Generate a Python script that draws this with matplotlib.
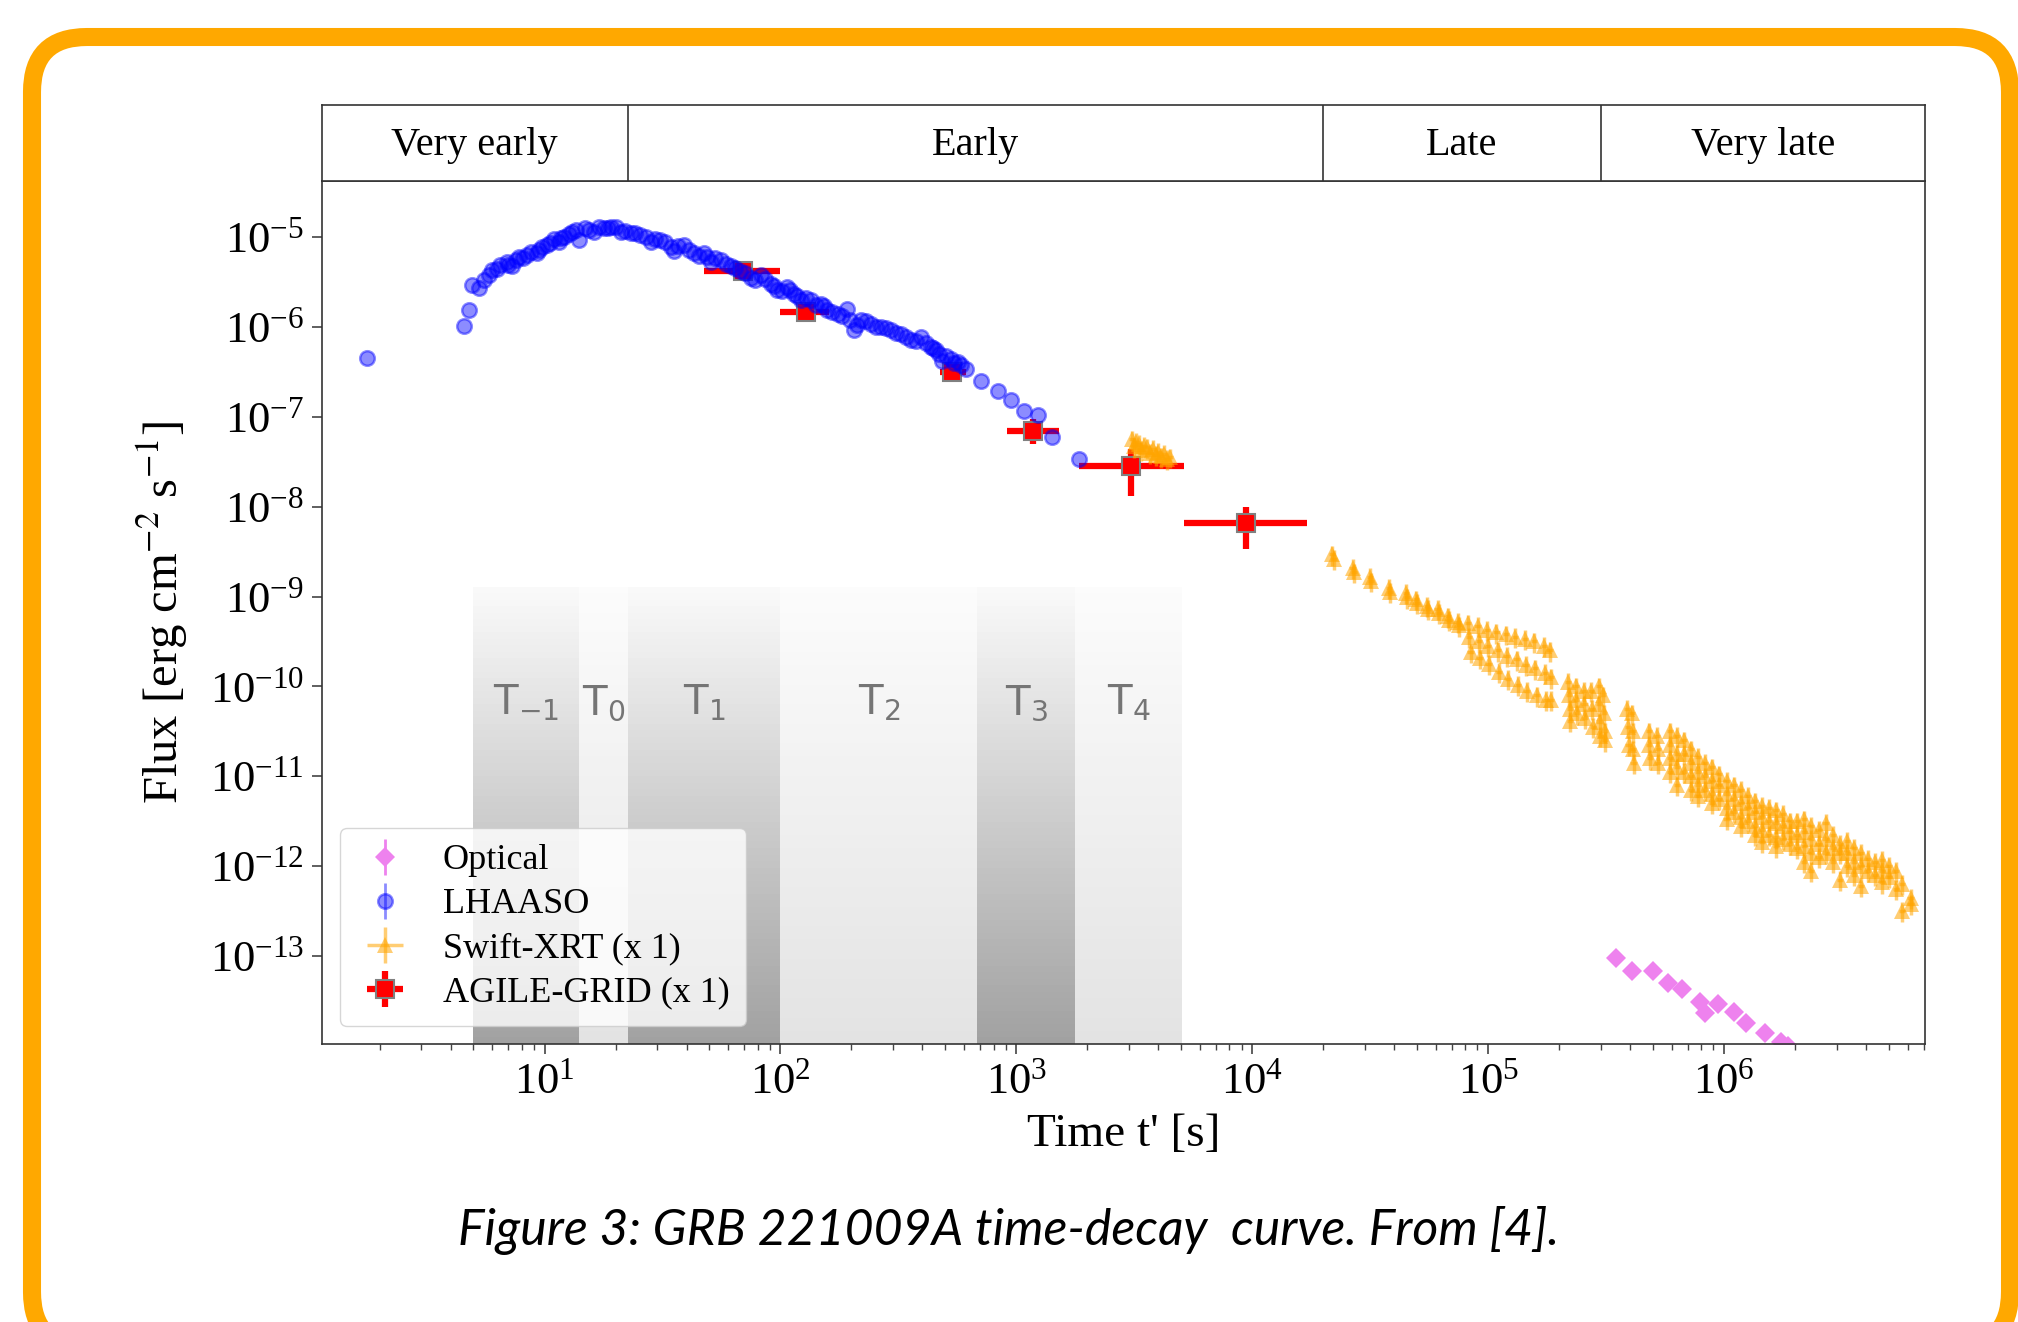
import numpy as np
import matplotlib
matplotlib.use('Agg')
import matplotlib.pyplot as plt
from matplotlib.patches import FancyBboxPatch
from matplotlib.ticker import LogLocator, NullLocator, LogFormatterMathtext

plt.rcParams['font.family'] = ['Liberation Serif', 'DejaVu Serif']
plt.rcParams['mathtext.fontset'] = 'stix'

# ---- data ----
phase_names = ['Very early', 'Early', 'Late', 'Very late']
phase_edges = [22.5, 2.0e4, 3.0e5]

interval_names = [r'T$_{-1}$', r'T$_{0}$', r'T$_{1}$', r'T$_{2}$', r'T$_{3}$', r'T$_{4}$']
interval_edges = [5.0, 14.0, 22.5, 100.0, 682.0, 1770.0, 5050.0]

opt_t = [3.49e5, 4.07e5, 4.98e5, 5.8e5, 6.6e5, 7.9e5, 8.3e5, 9.4e5, 1.1e6, 1.24e6, 1.49e6, 1.74e6, 1.87e6]
opt_f = [9.6e-14, 6.8e-14, 6.8e-14, 5.0e-14, 4.35e-14, 3.1e-14, 2.3e-14, 2.95e-14, 2.4e-14,
         1.8e-14, 1.4e-14, 1.1e-14, 1.0e-14]

lhaaso_t = [1.77, 4.55, 4.78, 4.93, 5.26, 5.53, 6.0, 6.5, 6.95, 7.3, 7.8, 8.4, 9.3, 9.8, 10.6, 11.5,
            12.1, 13.1, 14.0, 14.9, 16.2, 17.9, 19.1, 21.0, 23.2, 25.5, 28.2, 31.0, 34.3, 35.4, 39.0,
            43.0, 47.4, 50.6, 55.8, 61.5, 67.6, 74.8, 82.6, 91.0, 97.1, 107, 114, 122, 135, 148, 158,
            175, 192, 205, 219, 242, 266, 294, 324, 357, 394, 434, 456, 486, 527, 563, 611, 708, 832,
            948, 1081, 1240, 1413, 1837,
            5.8, 6.3, 7.0, 7.6, 8.1, 8.8, 9.5, 10.2, 11.0, 11.8, 12.7, 13.6, 15.5, 17.0, 18.5, 20.0,
            22.0, 24.3, 26.8, 29.5, 32.5, 36.8, 41.0, 45.0, 49.0, 53.0, 58.5, 64.0, 71.0, 78.0, 86.0,
            94.0, 102, 110, 118, 128, 141, 153, 166, 183, 198, 212, 230, 254, 280, 309, 340, 375, 414,
            445, 470, 505, 545, 585]
lhaaso_f = [4.5e-7, 1.02e-6, 1.53e-6, 2.9e-6, 2.7e-6, 3.3e-6, 4.3e-6, 4.9e-6, 5.3e-6, 4.7e-6, 6.0e-6,
            6.3e-6, 6.6e-6, 7.8e-6, 8.5e-6, 8.9e-6, 1.01e-5, 1.15e-5, 9.3e-6, 1.25e-5, 1.15e-5, 1.25e-5,
            1.3e-5, 1.15e-5, 1.1e-5, 1.05e-5, 8.9e-6, 9.3e-6, 7.8e-6, 6.9e-6, 8.1e-6, 6.6e-6, 6.6e-6,
            5.3e-6, 5.5e-6, 4.7e-6, 4.2e-6, 3.5e-6, 3.8e-6, 3.0e-6, 2.6e-6, 2.8e-6, 2.35e-6, 2.0e-6,
            2.0e-6, 1.82e-6, 1.53e-6, 1.4e-6, 1.6e-6, 9.2e-7, 1.19e-6, 1.09e-6, 1.0e-6, 9.2e-7, 8.4e-7,
            7.1e-7, 7.7e-7, 6.0e-7, 5.5e-7, 4.2e-7, 4.4e-7, 4.1e-7, 3.4e-7, 2.5e-7, 1.96e-7, 1.54e-7,
            1.15e-7, 1.05e-7, 6.0e-8, 3.4e-8,
            3.8e-6, 4.4e-6, 4.9e-6, 5.5e-6, 5.8e-6, 6.8e-6, 7.2e-6, 8.2e-6, 9.6e-6, 9.8e-6, 1.08e-5,
            1.2e-5, 1.2e-5, 1.3e-5, 1.27e-5, 1.28e-5, 1.18e-5, 1.12e-5, 1.0e-5, 9.6e-6, 8.7e-6, 8.0e-6,
            7.2e-6, 6.2e-6, 6.0e-6, 5.8e-6, 5.0e-6, 4.5e-6, 4.0e-6, 3.3e-6, 3.4e-6, 2.85e-6, 2.5e-6,
            2.6e-6, 2.2e-6, 2.1e-6, 1.75e-6, 1.7e-6, 1.45e-6, 1.32e-6, 1.2e-6, 1.05e-6, 1.15e-6, 1.0e-6,
            9.7e-7, 8.5e-7, 7.7e-7, 7.0e-7, 6.6e-7, 5.8e-7, 5.0e-7, 4.7e-7, 4.0e-7, 3.8e-7]

# Swift-XRT, read as log10(t) and log10(flux) off the log axes
swift_log_t = [3.49, 3.50, 3.505, 3.52, 3.53, 3.54, 3.555, 3.565, 3.58, 3.59, 3.60, 3.615, 3.625, 3.64, 3.65,
               4.337, 4.345, 4.425, 4.43, 4.50, 4.505, 4.58, 4.585, 4.65, 4.655, 4.695, 4.70, 4.74, 4.745,
               4.785, 4.79, 4.83, 4.835, 4.87, 4.875,
               4.915, 4.92, 4.925, 4.955, 4.96, 4.965, 4.995, 5.0, 5.005, 5.035, 5.04, 5.045,
               5.075, 5.08, 5.085, 5.115, 5.12, 5.125, 5.155, 5.16, 5.165, 5.195, 5.2, 5.205,
               5.235, 5.24, 5.245, 5.26, 5.265, 5.268,
               5.34, 5.342, 5.345, 5.348, 5.37, 5.372, 5.375, 5.405, 5.408, 5.41, 5.437, 5.44, 5.443,
               5.468, 5.47, 5.472, 5.475, 5.488, 5.49, 5.493, 5.495,
               5.59, 5.592, 5.595, 5.61, 5.612, 5.614, 5.616,
               5.68, 5.683, 5.686, 5.715, 5.718, 5.72,
               5.77, 5.77, 5.77, 5.77, 5.80, 5.80, 5.80, 5.80, 5.83, 5.83, 5.83,
               5.86, 5.86, 5.86, 5.86, 5.89, 5.89, 5.89, 5.89, 5.92, 5.92, 5.92,
               5.95, 5.95, 5.95, 5.95, 5.98, 5.98, 5.98, 6.01, 6.01, 6.01, 6.01,
               6.04, 6.04, 6.04, 6.07, 6.07, 6.07, 6.07, 6.10, 6.10, 6.10,
               6.13, 6.13, 6.13, 6.13, 6.16, 6.16, 6.16, 6.16, 6.19, 6.19, 6.19,
               6.22, 6.22, 6.22, 6.22, 6.25, 6.25, 6.25, 6.28, 6.28, 6.28, 6.31, 6.31, 6.31,
               6.34, 6.34, 6.34, 6.34, 6.37, 6.37, 6.37, 6.37, 6.40, 6.40, 6.40,
               6.43, 6.43, 6.43, 6.46, 6.46, 6.46, 6.49, 6.49, 6.49, 6.52, 6.52, 6.52,
               6.55, 6.55, 6.55, 6.58, 6.58, 6.58, 6.61, 6.61, 6.64, 6.64, 6.67, 6.67, 6.67,
               6.70, 6.70, 6.73, 6.73, 6.755, 6.755, 6.79, 6.79]
swift_log_f = [-7.25, -7.33, -7.28, -7.30, -7.37, -7.32, -7.34, -7.40, -7.36, -7.42, -7.39, -7.44, -7.41, -7.47, -7.45,
               -8.53, -8.58, -8.68, -8.73, -8.78, -8.83, -8.90, -8.95, -8.96, -9.01, -9.03, -9.07, -9.10, -9.14,
               -9.14, -9.18, -9.22, -9.26, -9.28, -9.32,
               -9.30, -9.45, -9.62, -9.33, -9.50, -9.68, -9.37, -9.55, -9.75, -9.40, -9.60, -9.84,
               -9.42, -9.66, -9.92, -9.45, -9.70, -9.98, -9.47, -9.76, -10.05, -9.50, -9.80, -10.10,
               -9.55, -9.85, -10.15, -9.60, -9.90, -10.15,
               -9.95, -10.10, -10.25, -10.38, -10.00, -10.15, -10.30, -10.05, -10.20, -10.35, -10.05, -10.25, -10.45,
               -10.00, -10.20, -10.40, -10.55, -10.10, -10.30, -10.50, -10.60,
               -10.25, -10.45, -10.65, -10.30, -10.50, -10.70, -10.85,
               -10.50, -10.65, -10.80, -10.55, -10.70, -10.85,
               -10.50, -10.65, -10.80, -10.95, -10.55, -10.75, -10.90, -11.10, -10.60, -10.75, -10.95,
               -10.70, -10.85, -11.00, -11.15, -10.78, -10.95, -11.10, -11.22, -10.85, -11.00, -11.15,
               -10.90, -11.05, -11.20, -11.30, -10.98, -11.10, -11.25, -11.05, -11.20, -11.35, -11.47,
               -11.10, -11.25, -11.40, -11.15, -11.30, -11.45, -11.55, -11.22, -11.35, -11.50,
               -11.28, -11.40, -11.55, -11.65, -11.33, -11.45, -11.60, -11.73, -11.35, -11.50, -11.65,
               -11.38, -11.52, -11.68, -11.78, -11.42, -11.55, -11.70, -11.50, -11.62, -11.75, -11.50, -11.65, -11.80,
               -11.48, -11.62, -11.78, -11.95, -11.55, -11.70, -11.85, -12.05, -11.60, -11.75, -11.90,
               -11.52, -11.70, -11.85, -11.65, -11.80, -11.95, -11.75, -11.85, -12.15, -11.72, -11.85, -12.00,
               -11.80, -11.95, -12.10, -11.85, -12.00, -12.22, -11.92, -12.05, -11.95, -12.10, -11.93, -12.05, -12.18,
               -12.00, -12.12, -12.05, -12.25, -12.20, -12.50, -12.35, -12.42]

agile_t = [69.2, 128, 535, 1172, 3060, 9420]
agile_f = [4.2e-6, 1.47e-6, 3.14e-7, 7.0e-8, 2.85e-8, 6.65e-9]
agile_t_lo = [47.5, 100, 474, 912, 1845, 5150]
agile_t_hi = [100, 160, 612, 1520, 5130, 1.7e4]
agile_f_lo = [3.8e-6, 1.3e-6, 2.8e-7, 5.0e-8, 1.32e-8, 3.36e-9]
agile_f_hi = [4.6e-6, 1.65e-6, 3.5e-7, 9.5e-8, 4.4e-8, 9.8e-9]

xmin, xmax = 1.14, 7.1e6
ymin, ymax = 1.05e-14, 4.2e-5

# ---- figure ----
W, H = 2018, 1322
fig = plt.figure(figsize=(W / 100, H / 100), dpi=100)
fig.patch.set_facecolor('white')

border = FancyBboxPatch((0.32, -0.25), 19.78, 13.1, boxstyle='round,pad=0,rounding_size=0.55',
                        transform=fig.dpi_scale_trans, facecolor='none', edgecolor='#FFA800',
                        linewidth=13, zorder=0)
fig.add_artist(border)

ax = fig.add_axes([322 / W, 278 / H, 1603 / W, 863 / H])
ax_top = fig.add_axes([322 / W, 1141 / H, 1603 / W, 76 / H])

# shaded time intervals with vertical gradient fading out towards the top
n_strips = 70
shade_top = 0.53
for i in range(len(interval_edges) - 1):
    dark = (i % 2 == 0)
    a_bot, a_top = (0.37, 0.02) if dark else (0.11, 0.012)
    for k in range(n_strips):
        frac = (k + 0.5) / n_strips
        ax.axvspan(interval_edges[i], interval_edges[i + 1],
                   ymin=shade_top * k / n_strips, ymax=shade_top * (k + 1) / n_strips,
                   color='black', alpha=a_bot + (a_top - a_bot) * frac, lw=0, zorder=0.5)
    xc = np.sqrt(interval_edges[i] * interval_edges[i + 1])
    ax.text(xc, 4.9e-11, interval_names[i], ha='center', va='baseline', fontsize=29,
            color='#757575', family='DejaVu Sans', math_fontfamily='dejavusans', zorder=1)

# data
h_opt = ax.errorbar(opt_t, opt_f, yerr=0, fmt='D', color='violet', ms=10, mew=0,
                    elinewidth=2, zorder=2.4)
h_lh = ax.errorbar(lhaaso_t, lhaaso_f, yerr=0, fmt='o', color='blue', alpha=0.45, ms=10.5,
                   mew=1.8, elinewidth=2, zorder=2.55)
agile_xerr = [np.array(agile_t) - np.array(agile_t_lo), np.array(agile_t_hi) - np.array(agile_t)]
agile_yerr = [np.array(agile_f) - np.array(agile_f_lo), np.array(agile_f_hi) - np.array(agile_f)]
h_ag = ax.errorbar(agile_t, agile_f, xerr=agile_xerr, yerr=agile_yerr, fmt='s', color='red',
                   mec='grey', mew=1.5, ms=13, elinewidth=4.5, zorder=2.5)
st = 10 ** np.array(swift_log_t)
sf = 10 ** np.array(swift_log_f)
h_sw = ax.errorbar(st, sf, xerr=0.03 * st, yerr=0.25 * sf, fmt='^', color='orange', alpha=0.55,
                   ms=12, mew=0, elinewidth=2.5, zorder=2.7)

ax.set_xscale('log')
ax.set_yscale('log')
ax.set_xlim(xmin, xmax)
ax.set_ylim(ymin, ymax)
ax.xaxis.set_major_locator(LogLocator(base=10, numticks=20))
ax.xaxis.set_minor_locator(LogLocator(base=10, subs=np.arange(2, 10), numticks=100))
ax.yaxis.set_major_locator(LogLocator(base=10, numticks=20))
ax.yaxis.set_minor_locator(NullLocator())
ax.xaxis.set_major_formatter(LogFormatterMathtext())
ax.yaxis.set_major_formatter(LogFormatterMathtext())
ax.tick_params(axis='both', which='major', labelsize=32, length=7, width=1.2, color='#444444', pad=6)
ax.tick_params(axis='x', which='minor', length=4, width=1.0, color='#444444')
for sp in ax.spines.values():
    sp.set_color('#333333')
    sp.set_linewidth(1.2)

ax.set_xlabel("Time t' [s]", fontsize=34, labelpad=8)
ax.set_ylabel(r'Flux [erg cm$^{-2}$ s$^{-1}$]', fontsize=35, labelpad=14)

leg = ax.legend([h_opt, h_lh, h_sw, h_ag],
                ['Optical', 'LHAASO', 'Swift-XRT (x 1)', 'AGILE-GRID (x 1)'],
                loc='lower left', fontsize=26, labelspacing=0.3, framealpha=0.8,
                edgecolor='#cccccc', handlelength=1.6, borderpad=0.45)
leg.set_zorder(5)

# phase band on top
ax_top.set_xscale('log')
ax_top.set_xlim(xmin, xmax)
ax_top.set_ylim(0, 1)
ax_top.set_xticks([])
ax_top.set_yticks([])
ax_top.xaxis.set_minor_locator(NullLocator())
for sp in ax_top.spines.values():
    sp.set_color('#333333')
    sp.set_linewidth(1.2)
bounds = [xmin] + phase_edges + [xmax]
for e in phase_edges:
    ax_top.axvline(e, color='#333333', lw=1.2)
for i, name in enumerate(phase_names):
    xc = np.sqrt(bounds[i] * bounds[i + 1])
    ax_top.text(xc, 0.47, name, ha='center', va='center', fontsize=29)

fig.text(0.5, 77 / H, 'Figure 3: GRB 221009A time-decay  curve. From [4].', ha='center',
         va='baseline', fontsize=36, style='italic', family='Lato')

fig.savefig('out.png', dpi=100)
